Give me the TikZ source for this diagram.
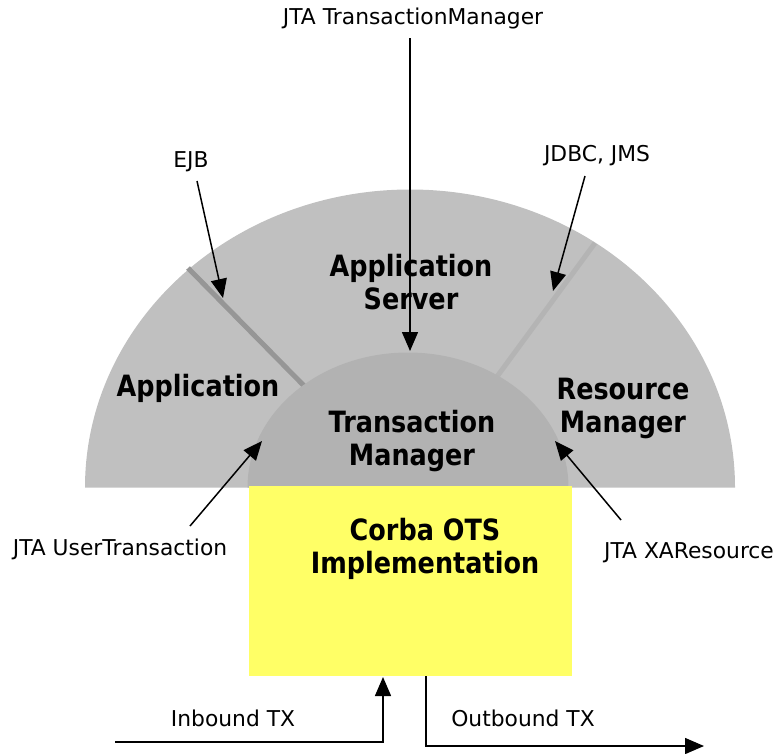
\documentclass[tikz,border=0pt]{standalone}
\usepackage{fontspec}
\setmainfont{DejaVu Sans}
\usetikzlibrary{arrows.meta}
\definecolor{ringgray}{HTML}{C0C0C0}
\definecolor{coregray}{HTML}{B2B2B2}
\definecolor{sepdark}{HTML}{969696}
\definecolor{seplight}{HTML}{B4B4B4}
\definecolor{otsyellow}{HTML}{FFFF66}
% bold titles are set a little taller than the plain face
\newcommand{\tallword}[1]{\scalebox{1}[1.15]{#1}}
\tikzset{
  lbl/.style={font=\fontsize{21.8}{24}\selectfont, inner sep=0pt, align=center},
  title/.style={font=\fontsize{25.5}{33}\selectfont\bfseries, inner sep=0pt, align=center},
  ptr/.style={line width=1.5pt, -{Triangle[length=19pt,width=16pt]}},
  sep/.style={line width=5pt}
}
\begin{document}
\begin{tikzpicture}[x=1pt,y=-1pt]
\useasboundingbox (0,0) rectangle (775,753);
% outer half ring
\fill[ringgray] (85,487.5) arc[start angle=180,end angle=360,x radius=325,y radius=298] -- cycle;
% separators between the ring sections
\draw[sep,sepdark] (188,268) -- (318,400);
\draw[sep,seplight] (595,243) -- (485,393);
% transaction manager core
\fill[coregray] (247.5,487.5) arc[start angle=180,end angle=360,x radius=160.5,y radius=135] -- cycle;
% OTS block
\fill[otsyellow] (249,486) rectangle (572,676);

% section titles
\node[title] (appserver) at (411,282) {\tallword{Application}\\\tallword{Server}};
\node[title] (app) at (198,388) {\tallword{Application}};
\node[title] (tm) at (412,441) {\tallword{Transaction}\\\tallword{Manager}};
\node[title] (rm) at (623,408) {\tallword{Resource}\\\tallword{Manager}};
\node[title] (ots) at (425,549) {\tallword{Corba OTS}\\\tallword{Implementation}};

% interface labels
\node[lbl] (jtatm) at (413,18) {JTA TransactionManager};
\node[lbl] (ejb) at (191,162) {EJB};
\node[lbl] (jdbc) at (597,156) {JDBC, JMS};
\node[lbl] (jtaut) at (120,549) {JTA UserTransaction};
\node[lbl] (jtaxa) at (689,553) {JTA XAResource};
\node[lbl] (inb) at (233,718) {Inbound TX};
\node[lbl] (outb) at (523,718) {Outbound TX};

% arrow anchors
\coordinate (tmS) at (410,38);   \coordinate (tmE) at (410,351);
\coordinate (ejbS) at (197,181); \coordinate (ejbE) at (223,298);
\coordinate (jdS) at (585,176);  \coordinate (jdE) at (553,291);
\coordinate (utS) at (190,526);  \coordinate (utE) at (262,441);
\coordinate (xaS) at (621,520);  \coordinate (xaE) at (555,441);
\coordinate (inS) at (115,742);  \coordinate (inE) at (383,677);
\coordinate (outS) at (426,676); \coordinate (outE) at (704,746);

\draw[ptr] (tmS) -- (tmE);
\draw[ptr] (ejbS) -- (ejbE);
\draw[ptr] (jdS) -- (jdE);
\draw[ptr] (utS) -- (utE);
\draw[ptr] (xaS) -- (xaE);
\draw[ptr] (inS) -| (inE);
\draw[ptr] (outS) |- (outE);
\end{tikzpicture}
\end{document}
